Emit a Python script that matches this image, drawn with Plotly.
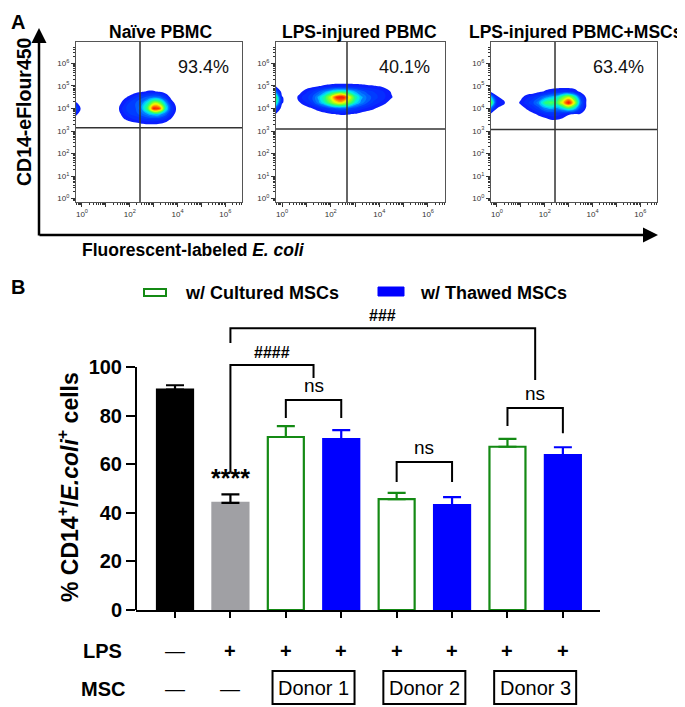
import math
import plotly.graph_objects as go

W, H = 685, 707
OFF = 8  # the page body adds an 8px margin around the figure
FONT = "Liberation Sans, Arial, sans-serif"


def px(x):
    return (x - OFF) / W


def py(y):
    return 1 - (y - OFF) / H


# ---------------- panel A: dot plots (log10 units) ----------------
flow_titles = ["Naïve PBMC", "LPS-injured PBMC", "LPS-injured PBMC+MSCs"]
flow_pcts = ["93.4%", "40.1%", "63.4%"]
gate_x = [2.43, 2.67, 2.43]
gate_y = [3.14, 3.09, 3.07]

naive_x = [-0.25, 0.0, 1.25, 1.5, 1.75, 2.0, 2.25, 2.5, 2.75, 3.0, 3.25, 3.5, 3.75, 4.0, 4.25]
naive_y = [3.0, 3.25, 3.5, 3.75, 4.0, 4.25, 4.5, 4.75, 5.0]
naive_z = [
    [0, 0, 0, 0, 0, 0, 0, 0, 0, 0, 0, 0, 0, 0, 0],
    [0, 0, 0, 0, 0, 0, 0, 0.2, 0.3, 0.3, 0.2, 0, 0, 0, 0],
    [0, 0, 0, 0, 0.4, 0.7, 1.0, 1.2, 1.3, 1.3, 1.2, 0.9, 0.3, 0, 0],
    [0.7, 0, 0, 0.1, 0.9, 1.5, 1.8, 2.3, 3.0, 3.6, 3.4, 2.4, 1.0, 0, 0],
    [2.2, 0, 0, 0.3, 1.3, 1.8, 2.0, 3.0, 5.0, 9.2, 8.6, 4.2, 1.4, 0.2, 0],
    [0.6, 0, 0, 0.1, 0.8, 1.6, 2.0, 2.6, 4.0, 6.0, 5.5, 3.2, 0.9, 0, 0],
    [0, 0, 0, 0, 0.3, 0.7, 1.4, 1.8, 2.2, 2.6, 2.4, 1.3, 0.2, 0, 0],
    [0, 0, 0, 0, 0, 0, 0.2, 0.4, 0.6, 0.6, 0.4, 0.1, 0, 0, 0],
    [0, 0, 0, 0, 0, 0, 0, 0, 0, 0, 0, 0, 0, 0, 0],
]

lps_x = [-0.25, 0.0, 0.25, 0.5, 0.75, 1.0, 1.25, 1.5, 1.75, 2.0, 2.25, 2.5, 2.75,
         3.0, 3.25, 3.5, 3.75, 4.0, 4.25, 4.5, 4.75]
lps_y = [3.5, 3.75, 4.0, 4.25, 4.5, 4.75, 5.0, 5.25]
lps_z = [
    [0] * 21,
    [0.4, 0, 0, 0, 0, 0, 0, 0, 0.2, 0.4, 0.55, 0.6, 0.55, 0.45, 0.2, 0, 0, 0, 0, 0, 0],
    [2.0, 0, 0, 0, 0, 0.2, 0.5, 0.9, 1.3, 1.8, 2.2, 2.3, 2.0, 1.6, 1.2, 0.9, 0.6, 0.3, 0, 0, 0],
    [4.5, 0.6, 0, 0, 0.5, 1.0, 1.6, 2.8, 4.0, 5.5, 6.8, 6.8, 5.5, 3.8, 2.8, 2.0, 1.4, 1.0, 0.6, 0.1, 0],
    [5.0, 0.6, 0, 0.1, 0.9, 1.3, 2.0, 3.2, 4.5, 6.5, 9.0, 9.5, 7.0, 4.5, 3.2, 2.4, 1.8, 1.4, 1.0, 0.6, 0],
    [2.5, 0, 0, 0, 0.3, 0.9, 1.4, 2.0, 2.8, 3.6, 4.2, 4.3, 3.8, 3.0, 2.3, 1.8, 1.5, 1.2, 0.9, 0.4, 0],
    [0.3, 0, 0, 0, 0, 0, 0.2, 0.45, 0.6, 0.7, 0.8, 0.8, 0.8, 0.75, 0.7, 0.6, 0.55, 0.45, 0.2, 0, 0],
    [0] * 21,
]

msc_x = [-0.25, 0.0, 0.75, 1.0, 1.25, 1.5, 1.75, 2.0, 2.25, 2.5, 2.75, 3.0, 3.25, 3.5, 3.75, 4.0]
msc_y = [3.25, 3.5, 3.75, 4.0, 4.25, 4.5, 4.75, 5.0]
msc_z = [
    [0] * 16,
    [0, 0, 0, 0, 0, 0, 0, 0.2, 0.5, 0.5, 0.3, 0, 0, 0, 0, 0],
    [0.3, 0, 0, 0, 0, 0.3, 0.7, 1.1, 1.3, 1.3, 1.0, 0.6, 0.5, 0.4, 0, 0],
    [2.5, 0.5, 0, 0.1, 0.6, 1.2, 1.8, 2.8, 3.2, 2.8, 3.6, 4.5, 3.6, 1.6, 0.3, 0],
    [5.5, 0.9, 0, 0.7, 1.3, 1.9, 2.9, 4.6, 5.2, 4.8, 7.0, 9.5, 6.5, 2.4, 0.4, 0],
    [3.5, 0.6, 0, 0.3, 0.9, 1.3, 1.9, 2.7, 3.3, 3.8, 5.3, 6.5, 4.6, 1.8, 0.3, 0],
    [0.3, 0, 0, 0, 0, 0, 0.3, 0.6, 0.9, 1.2, 1.4, 1.3, 0.9, 0.3, 0, 0],
    [0] * 16,
]

# ---------------- panel B: bar chart ----------------
groups = ["Naive", "LPS", "D1 cultured", "D1 thawed", "D2 cultured", "D2 thawed",
          "D3 cultured", "D3 thawed"]
pct_mean = [90.7, 44.1, 71.2, 70.3, 45.6, 43.2, 67.2, 63.8]
pct_err = [1.8, 3.5, 4.5, 3.7, 2.6, 3.3, 3.2, 3.2]
lps_row = ["—", "+", "+", "+", "+", "+", "+", "+"]
msc_row = ["—", "—"]
donors = ["Donor 1", "Donor 2", "Donor 3"]
# (from x, to x, top, left drop, right drop, label)
brackets = [
    (1, 6.5, 116.0, 109.9, 94.7, "###"),
    (1, 2.5, 100.8, 56.5, 95.5, "####"),
    (2, 3, 86.4, 79.0, 79.0, "ns"),
    (4, 5, 60.9, 52.7, 52.7, "ns"),
    (6, 7, 83.1, 75.7, 72.8, "ns"),
]

GREEN = "#148a14"
BLUE = "#0000ff"

fig = go.Figure()


def note(x, y, text, size, xref="paper", yref="paper", **kw):
    kw.setdefault("xanchor", "center")
    kw.setdefault("yanchor", "middle")
    color = kw.pop("color", "black")
    fig.add_annotation(x=x, y=y, xref=xref, yref=yref, text=text, showarrow=False,
                       font=dict(size=size, color=color, family=FONT), **kw)


jet = [
    [0.0, "rgba(0,40,255,0)"], [0.045, "rgba(0,40,255,0)"],
    [0.05, "rgb(10,30,255)"], [0.15, "rgb(0,60,255)"], [0.25, "rgb(0,125,255)"],
    [0.30, "rgb(0,190,255)"], [0.35, "rgb(0,235,230)"], [0.45, "rgb(40,255,120)"],
    [0.55, "rgb(130,255,40)"], [0.65, "rgb(235,255,0)"], [0.70, "rgb(255,215,0)"],
    [0.75, "rgb(255,150,0)"], [0.85, "rgb(255,50,0)"], [1.0, "rgb(225,0,0)"],
]

flow_dom_x = [(76, 242), (276, 445), (491, 657)]
flow_data = [(naive_x, naive_y, naive_z), (lps_x, lps_y, lps_z), (msc_x, msc_y, msc_z)]
pct_cx = [203, 404, 618]
title_cx = [160, 359, 576]
XR = [-0.25, 6.7]
YR = [-0.15, 6.95]

minor_vals = []
for d in range(-1, 7):
    for k in range(2, 10):
        v = d + math.log10(k)
        if XR[0] <= v <= XR[1]:
            minor_vals.append(v)
minor_y = [v for v in minor_vals if YR[0] <= v <= YR[1]]

for i, (fx, fy, fz) in enumerate(flow_data):
    n = i + 2
    fig.add_trace(go.Contour(
        x=fx, y=fy, z=fz, xaxis=f"x{n}", yaxis=f"y{n}",
        colorscale=jet, showscale=False, hoverinfo="skip",
        contours=dict(start=0.5, end=10, size=0.5, coloring="fill"),
        line=dict(width=0, smoothing=1.3),
    ))
    x0, x1 = flow_dom_x[i]
    common = dict(showgrid=False, zeroline=False, showline=True, linecolor="#555",
                  linewidth=1, mirror=True, ticks="outside", ticklen=4, tickcolor="#333",
                  automargin=False,
                  tickfont=dict(size=8, color="#333", family=FONT))
    fig.update_layout(**{
        f"xaxis{n}": dict(domain=[px(x0), px(x1)], anchor=f"y{n}", range=XR,
                          tickvals=[0, 1, 2, 3, 4, 5, 6],
                          ticktext=["10<sup>0</sup>", "", "10<sup>2</sup>", "",
                                    "10<sup>4</sup>", "", "10<sup>6</sup>"],
                          minor=dict(tickmode="array", tickvals=minor_vals, ticklen=2,
                                     ticks="outside", tickcolor="#333"),
                          **common),
        f"yaxis{n}": dict(domain=[py(202), py(42)], anchor=f"x{n}", range=YR,
                          tickvals=[0, 1, 2, 3, 4, 5, 6],
                          ticktext=[f"10<sup>{k}</sup>" for k in range(7)],
                          minor=dict(tickmode="array", tickvals=minor_y, ticklen=2,
                                     ticks="outside", tickcolor="#333"),
                          **common),
    })
    fig.add_shape(type="line", xref=f"x{n}", yref=f"y{n}", x0=gate_x[i], x1=gate_x[i],
                  y0=YR[0], y1=YR[1], line=dict(color="#333", width=1.5))
    fig.add_shape(type="line", xref=f"x{n}", yref=f"y{n}", x0=XR[0], x1=XR[1],
                  y0=gate_y[i], y1=gate_y[i], line=dict(color="#333", width=1.5))
    note(px(pct_cx[i]), py(67), flow_pcts[i], 18, color="#111")
    note(px(title_cx[i]), py(32), f"<b>{flow_titles[i]}</b>", 17.5)

# axis arrows of panel A
fig.add_annotation(x=px(39), y=py(28), xref="paper", yref="paper", ax=0, ay=209,
                   text="", showarrow=True, arrowhead=2, arrowsize=1.2, arrowwidth=2.5,
                   arrowcolor="black")
fig.add_annotation(x=px(658), y=py(235), xref="paper", yref="paper", ax=-620, ay=0,
                   text="", showarrow=True, arrowhead=2, arrowsize=1.2, arrowwidth=2.5,
                   arrowcolor="black")
note(px(24), py(112), "<b>CD14-eFlour450</b>", 19.5, textangle=-90)
note(px(80), py(250), "<b>Fluorescent-labeled <i>E. coli</i></b>", 17.5, xanchor="left")
note(px(9), py(9), "<b>A</b>", 20, xanchor="left", yanchor="top")
note(px(9), py(287), "<b>B</b>", 20, xanchor="left")

# ---------------- bars ----------------
BXR = [-0.704, 7.67]
BYR = [0, 127.6]
BDX = [px(136), px(600)]


def bx(v):
    return BDX[0] + (v - BXR[0]) / (BXR[1] - BXR[0]) * (BDX[1] - BDX[0])


bar_style = [
    ("black", "black", "black", [0]),
    ("#a0a0a4", "#a0a0a4", "black", [1]),
    ("white", GREEN, GREEN, [2, 4, 6]),
    (BLUE, BLUE, BLUE, [3, 5, 7]),
]
for fill, edge, ecol, idx in bar_style:
    fig.add_trace(go.Bar(
        x=idx, y=[pct_mean[k] for k in idx], width=0.65,
        marker=dict(color=fill, line=dict(color=edge, width=2.2)),
        error_y=dict(type="data", array=[pct_err[k] for k in idx], arrayminus=[0] * len(idx),
                     symmetric=False, color=ecol, thickness=2.2, width=9),
        xaxis="x", yaxis="y", showlegend=False, hoverinfo="skip",
    ))

fig.update_layout(
    xaxis=dict(domain=BDX, range=BXR, anchor="y", tickvals=list(range(8)),
               showticklabels=False, ticks="outside", ticklen=6, tickwidth=2,
               tickcolor="black", showline=True, linewidth=2, linecolor="black",
               showgrid=False, zeroline=False, automargin=False),
    yaxis=dict(domain=[py(610), py(300)], range=BYR, anchor="x",
               tickvals=[0, 20, 40, 60, 80, 100],
               ticktext=[f"<b>{v}</b>" for v in [0, 20, 40, 60, 80, 100]],
               ticks="outside", ticklen=9, tickwidth=2, tickcolor="black",
               tickfont=dict(size=20, color="black", family=FONT),
               showline=False, showgrid=False, zeroline=False, automargin=False),
)
fig.add_shape(type="line", xref="paper", yref="y", x0=BDX[0], x1=BDX[0], y0=0, y1=100,
              line=dict(color="black", width=2))

for x0, x1, top, d0, d1, lab in brackets:
    fig.add_shape(type="path", xref="x", yref="y",
                  path=f"M {x0},{d0} L {x0},{top} L {x1},{top} L {x1},{d1}",
                  line=dict(color="black", width=2))
    if lab == "ns":
        note((x0 + x1) / 2, top + 0.8, lab, 19, xref="x", yref="y", yanchor="bottom")
    else:
        note((x0 + x1) / 2, top + 0.8, f"<b>{lab}</b>", 16, xref="x", yref="y",
             yanchor="bottom")
note(1, pct_mean[1] + pct_err[1] + 0.3, "<b>****</b>", 25, xref="x", yref="y",
     yanchor="bottom")
note(px(68), py(487), "<b>% CD14<sup>+</sup>/<i>E.coli</i><sup>+</sup> cells</b>", 23,
     textangle=-90)

# legend
fig.add_shape(type="rect", xref="paper", yref="paper", x0=px(144), x1=px(166),
              y0=py(296), y1=py(289), line=dict(color=GREEN, width=2), fillcolor="white")
note(px(183), py(293), "<b>w/ Cultured MSCs</b>", 18, xanchor="left")
fig.add_shape(type="rect", xref="paper", yref="paper", x0=px(378), x1=px(404),
              y0=py(296), y1=py(287), line=dict(color=BLUE, width=1), fillcolor=BLUE)
note(px(418), py(293), "<b>w/ Thawed MSCs</b>", 18, xanchor="left")

# treatment table
note(px(102), py(651), "<b>LPS</b>", 20)
note(px(103), py(689), "<b>MSC</b>", 20)
for k, s in enumerate(lps_row):
    note(k, py(651), f"<b>{s}</b>" if s == "+" else s, 20, xref="x")
for k, s in enumerate(msc_row):
    note(k, py(689), s, 20, xref="x")
for j, name in enumerate(donors):
    c = 2.5 + 2 * j
    fig.add_shape(type="rect", xref="paper", yref="paper", x0=bx(c - 0.74), x1=bx(c + 0.74),
                  y0=py(704), y1=py(671), line=dict(color="black", width=2))
    note(c, py(688), name, 20, xref="x")

fig.update_layout(width=W, height=H,
                  margin=dict(l=0, r=0, t=0, b=0, pad=0, autoexpand=False),
                  template="none",
                  paper_bgcolor="white", plot_bgcolor="white", barmode="overlay",
                  showlegend=False, font=dict(family=FONT, color="black"))
fig.write_html("out.html")
